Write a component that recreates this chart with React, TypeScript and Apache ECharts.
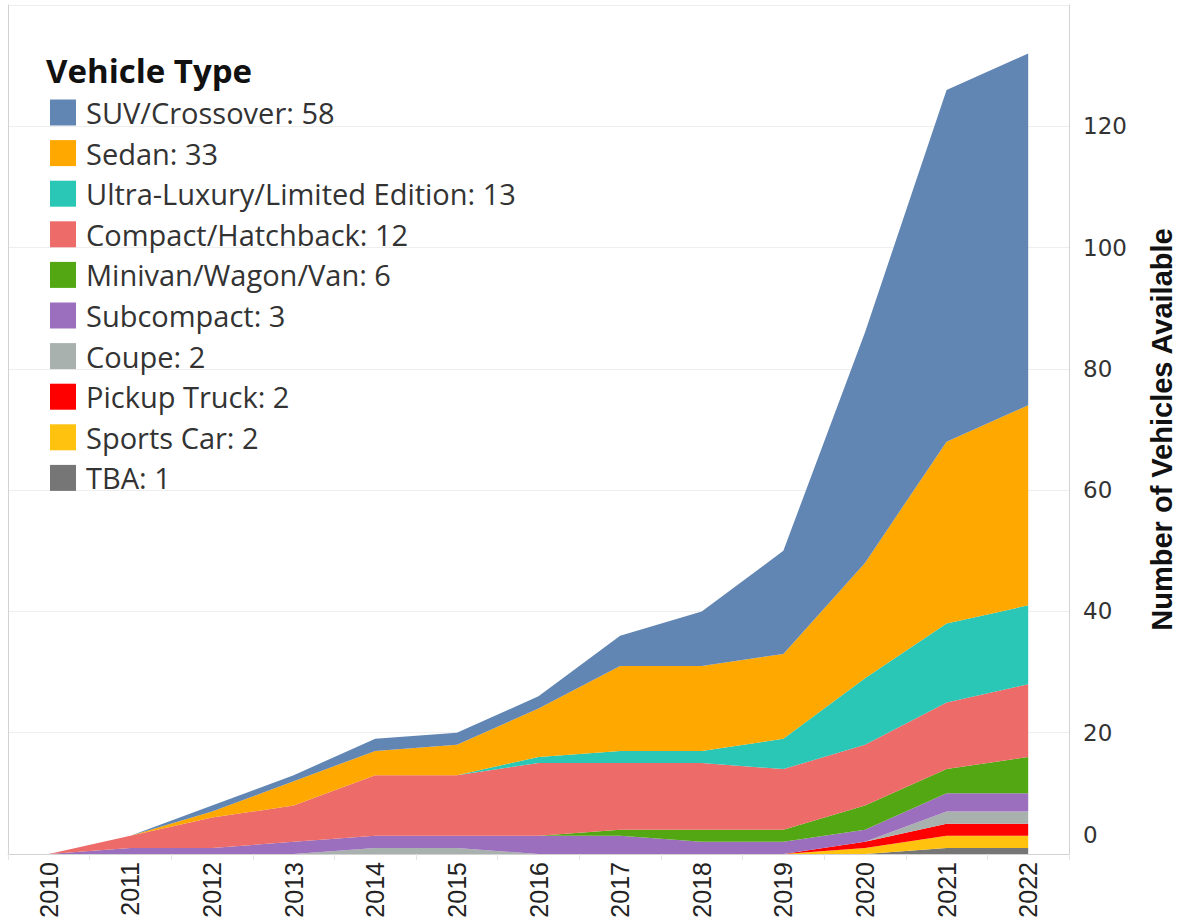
import React, { useEffect, useRef } from "react";
import * as echarts from "echarts";

const years = ["2010","2011","2012","2013","2014","2015","2016","2017","2018","2019","2020","2021","2022"];

const suv = [0,0,1,1,2,2,2,5,9,17,38,58,58];
const sedan = [0,0,1,4,4,5,8,14,14,14,19,30,33];
const ultraLuxury = [0,0,0,0,0,0,1,2,2,5,11,13,13];
const compact = [0,2,5,6,10,10,12,11,11,10,10,11,12];
const minivan = [0,0,0,0,0,0,0,1,2,2,4,4,6];
const subcompact = [0,1,1,2,2,2,3,3,2,2,2,3,3];
const coupe = [0,0,0,0,1,1,0,0,0,0,0,2,2];
const pickup = [0,0,0,0,0,0,0,0,0,0,1,2,2];
const sportsCar = [0,0,0,0,0,0,0,0,0,0,1,2,2];
const tba = [0,0,0,0,0,0,0,0,0,0,0,1,1];

const yTicks = [0, 20, 40, 60, 80, 100, 120];

// bottom-to-top stacking order
const seriesDefs = [
  { name: "TBA", data: tba, color: "#767676" },
  { name: "Sports Car", data: sportsCar, color: "#ffc20e" },
  { name: "Pickup Truck", data: pickup, color: "#ff0000" },
  { name: "Coupe", data: coupe, color: "#a9b1ae" },
  { name: "Subcompact", data: subcompact, color: "#9b6fbd" },
  { name: "Minivan/Wagon/Van", data: minivan, color: "#52a712" },
  { name: "Compact/Hatchback", data: compact, color: "#ed6b68" },
  { name: "Ultra-Luxury/Limited Edition", data: ultraLuxury, color: "#2ac6b6" },
  { name: "Sedan", data: sedan, color: "#ffa800" },
  { name: "SUV/Crossover", data: suv, color: "#6286b3" },
];

const legendOrder = [
  "SUV/Crossover",
  "Sedan",
  "Ultra-Luxury/Limited Edition",
  "Compact/Hatchback",
  "Minivan/Wagon/Van",
  "Subcompact",
  "Coupe",
  "Pickup Truck",
  "Sports Car",
  "TBA",
];

export default function App() {
  const ref = useRef<HTMLDivElement>(null);
  useEffect(() => {
    if (!ref.current) return;
    const chart = echarts.init(ref.current, null, { renderer: "svg" });
    const lastVal: Record<string, number> = {};
    seriesDefs.forEach((s) => (lastVal[s.name] = s.data[s.data.length - 1]));
    const yMin = yTicks[0];
    const yInterval = yTicks[1] - yTicks[0];
    const yMax = yTicks[yTicks.length - 1] + yInterval;
    chart.setOption({
      animation: false,
      backgroundColor: "#ffffff",
      title: {
        text: "Vehicle Type",
        left: 46,
        top: 54,
        padding: 0,
        textStyle: {
          fontFamily: "Open Sans",
          fontSize: 33,
          fontWeight: "bold",
          color: "#111111",
        },
      },
      legend: {
        data: legendOrder,
        orient: "vertical",
        left: 50,
        top: 98,
        padding: 0,
        itemWidth: 26,
        itemHeight: 26,
        itemGap: 11.6,
        icon: "rect",
        selectedMode: false,
        formatter: (name: string) => `${name}: ${lastVal[name]}`,
        textStyle: {
          fontFamily: "Open Sans",
          fontSize: 29,
          lineHeight: 26,
          color: "#333333",
          padding: [0, 0, 0, 5],
        },
      },
      grid: {
        left: 8,
        right: 110,
        top: 5,
        bottom: 69,
        containLabel: false,
        outerBoundsMode: "none",
      },
      xAxis: {
        type: "category",
        data: years,
        boundaryGap: true,
        axisLine: { show: true, lineStyle: { color: "#d2d2d2", width: 1 } },
        axisTick: { show: true, length: 6, lineStyle: { color: "#e4e4e4" } },
        axisLabel: {
          rotate: 90,
          fontFamily: "Liberation Sans",
          fontSize: 25,
          color: "#222222",
          margin: 8,
        },
        splitLine: { show: false },
      },
      yAxis: [
        {
          type: "value",
          position: "right",
          min: yMin,
          max: yMax,
          interval: yInterval,
          name: "Number of Vehicles Available",
          nameLocation: "middle",
          nameRotate: 90,
          nameGap: 78,
          nameTextStyle: {
            fontFamily: "Liberation Sans",
            fontSize: 29,
            fontWeight: "bold",
            color: "#111111",
          },
          axisLine: { show: true, lineStyle: { color: "#d2d2d2", width: 1 } },
          axisTick: { show: false },
          axisLabel: {
            fontFamily: "DejaVu Sans",
            fontSize: 23,
            color: "#333333",
            margin: 14,
            lineHeight: 38,
            showMaxLabel: false,
            verticalAlignMinLabel: "bottom",
          },
          splitLine: { show: true, lineStyle: { color: "#eeeeee", width: 1 } },
        },
        {
          type: "value",
          position: "left",
          min: yMin,
          max: yMax,
          interval: yInterval,
          axisLine: { show: true, lineStyle: { color: "#d2d2d2", width: 1 } },
          axisTick: { show: false },
          axisLabel: { show: false },
          splitLine: { show: false },
        },
      ],
      series: seriesDefs.map((s) => ({
        name: s.name,
        type: "line",
        stack: "total",
        data: s.data,
        symbol: "none",
        showSymbol: false,
        lineStyle: { width: 0, color: s.color },
        itemStyle: { color: s.color },
        areaStyle: { color: s.color, opacity: 1 },
        emphasis: { disabled: true },
      })),
    });
    return () => chart.dispose();
  }, []);
  return (
    <div
      ref={ref}
      style={{ position: "fixed", left: 0, top: 0, width: 1179, height: 923, background: "#fff" }}
    />
  );
}
